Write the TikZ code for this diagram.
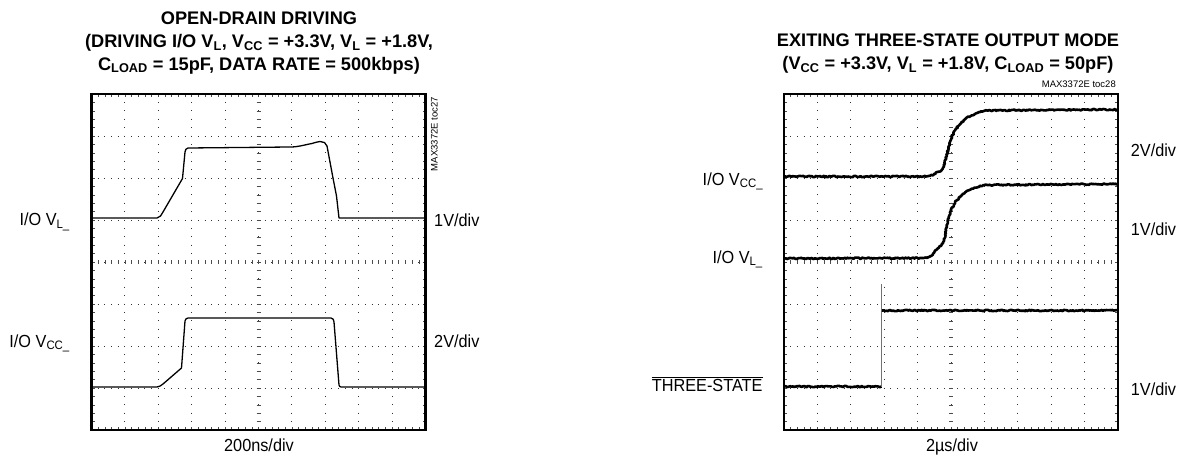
\documentclass[tikz,border=0pt]{standalone}
\usepackage{fontspec}
\setmainfont{Liberation Sans}
\newfontfamily\narrowsans[FakeStretch=0.93]{Liberation Sans}
\usetikzlibrary{decorations.pathmorphing}
\tikzset{%
   boxline/.style={
      draw=black,
      line width=2.2pt
   },
   griddot/.style={
      draw=black!80,
      line width=1pt
   },
   gridtick/.style={
      draw=black!70,
      line width=0.6pt
   },
   trace/.style={
      draw=black,
      line width=1.3pt,
      line join=round
   },
   noisy/.style={
      draw=black,
      line width=2.6pt,
      line join=round,
      decorate,
      decoration={random steps, segment length=1.2pt, amplitude=0.7pt}
   },
   lbl/.style={
      inner sep=0pt,
      font=\narrowsans\fontsize{17.5}{20}\selectfont
   },
   ttl/.style={
      inner sep=0pt,
      align=center,
      font=\fontsize{18.2}{22.8}\selectfont\bfseries
   },
   tag/.style={
      inner sep=0pt,
      font=\fontsize{9.5}{11}\selectfont
   },
   screen/.pic={
      \foreach \i in {1,...,9}
         \draw[griddot, dash pattern=on 1pt off 7.4pt, dash phase=0.5pt] (\i*33.4,0) -- (\i*33.4,336);
      \foreach \j in {1,...,7}
         \draw[griddot, dash pattern=on 1pt off 5.68pt, dash phase=0.5pt] (0,\j*42) -- (334,\j*42);
      \foreach \k in {1,...,49} {
         \draw[gridtick] (\k*6.68,166) -- (\k*6.68,170);
         \draw[gridtick] (\k*6.68,0) -- (\k*6.68,3);
         \draw[gridtick] (\k*6.68,336) -- (\k*6.68,333);
      }
      \foreach \k in {1,...,39} {
         \draw[gridtick] (165,\k*8.4) -- (169,\k*8.4);
         \draw[gridtick] (0,\k*8.4) -- (3,\k*8.4);
         \draw[gridtick] (334,\k*8.4) -- (331,\k*8.4);
      }
      \draw[boxline] (0,0) rectangle (334,336);
   }
}

\begin{document}
\begin{tikzpicture}[x=1pt, y=-1pt]
   \useasboundingbox (0,0) rectangle (1179,463);
   \pgfmathsetseed{7}

   % open-drain driving
   \pic at (91.5,94) {screen};
   \node[ttl, anchor=north] (titleA) at (259,11.5) {OPEN-DRAIN DRIVING\\
      (DRIVING I/O V\textsubscript{L}, V\textsubscript{CC} = +3.3V, V\textsubscript{L} = +1.8V,\\
      C\textsubscript{LOAD} = 15pF, DATA RATE = 500kbps)};
   \node[tag, rotate=90, anchor=base east] (tocA) at (437.5,97) {MAX3372E toc27};
   \draw[trace] (91.5,218) -- (157,218) to[out=0,in=235] (163,212) -- (182.5,178.5) -- (185,152)
      to[out=80,in=180] (188,148) -- (290,147) to[out=0,in=190] (312,143.5)
      to[out=10,in=180] (320,141.5) to[out=0,in=100] (327,146) -- (333,178) -- (336.5,196)
      -- (339,218) -- (425.5,218);
   \draw[trace] (91.5,387) -- (157,387) to[out=0,in=210] (163,384) -- (181.5,368) -- (185,321)
      to[out=80,in=180] (188,318) -- (331,318) to[out=0,in=90] (334,322) -- (339,385)
      to[out=-80,in=180] (341,387) -- (425.5,387);
   \node[lbl, anchor=base east] (vlA) at (70,225.7) {I/O V\textsubscript{L\_}};
   \node[lbl, anchor=base east] (vccA) at (70,347.3) {I/O V\textsubscript{CC\_}};
   \node[lbl, anchor=base west] (divA) at (434,226.7) {1V/div};
   \node[lbl, anchor=base west] (divB) at (434,347.3) {2V/div};
   \node[lbl, anchor=base] (timeA) at (259,451.5) {200ns/div};

   % exiting three-state output mode
   \pic at (784,94) {screen};
   \node[ttl, anchor=north] (titleB) at (948,34) {EXITING THREE-STATE OUTPUT MODE\\
      (V\textsubscript{CC} = +3.3V, V\textsubscript{L} = +1.8V, C\textsubscript{LOAD} = 50pF)};
   \node[tag, anchor=base east] (tocB) at (1116,87) {MAX3372E toc28};
   \draw[noisy] (784,176.5) -- (925,176.5) to[out=0,in=200] (941,171) -- (944,166) -- (948,150)
      .. controls (952,130) and (962,115) .. (987,110.5) -- (1118,109.5);
   \draw[noisy] (784,258.5) -- (925,258) to[out=0,in=210] (941,246) -- (944,240) -- (948,220)
      .. controls (952,203) and (962,188) .. (987,185) -- (1118,184);
   \draw[noisy] (784,386.5) -- (881.5,386.5);
   \draw[black!55, line width=0.9pt] (881.5,386.5) -- (881.5,284);
   \draw[noisy] (882,310.5) -- (1118,310.5);
   \node[lbl, anchor=base east] (vccB) at (763.3,185) {I/O V\textsubscript{CC\_}};
   \node[lbl, anchor=base east] (vlB) at (763,263.3) {I/O V\textsubscript{L\_}};
   \node[lbl, anchor=base east] (tsB) at (762.7,391) {$\overline{\hbox{THREE-STATE}}$};
   \node[lbl, anchor=base west] (divC) at (1130.7,156.7) {2V/div};
   \node[lbl, anchor=base west] (divD) at (1130.7,235.7) {1V/div};
   \node[lbl, anchor=base west] (divE) at (1130.7,395) {1V/div};
   \node[lbl, anchor=base] (timeB) at (952,451.5) {2µs/div};
\end{tikzpicture}
\end{document}
